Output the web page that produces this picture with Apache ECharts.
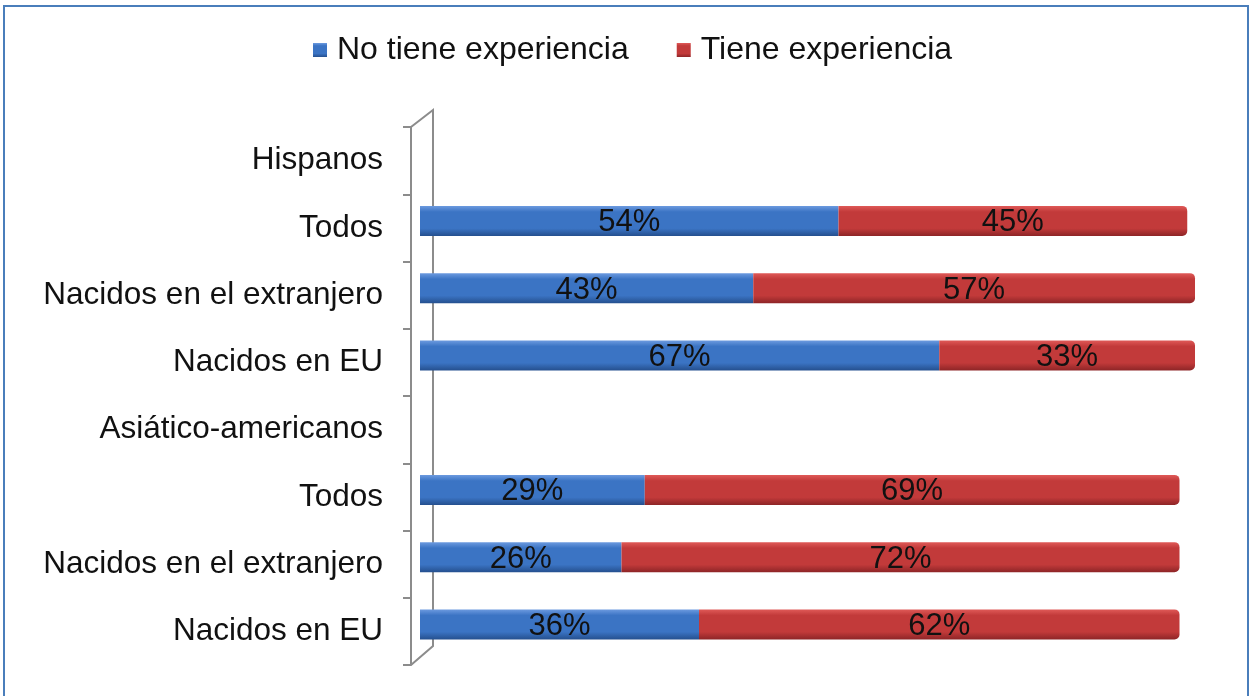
<!DOCTYPE html>
<html>
	<head>
		<meta charset="utf-8">
		<script type="text/javascript" src="https://cdn.jsdelivr.net/npm/echarts/dist/echarts.min.js"></script>
	</head>
	<body style="margin:0">
		<div id="main" style="width:1253px;height:696px"></div>
		<script type="text/javascript">
			// categorias (de arriba hacia abajo)
			var categorias = ['Hispanos', 'Todos', 'Nacidos en el extranjero', 'Nacidos en EU',
				'Asiático-americanos', 'Todos', 'Nacidos en el extranjero', 'Nacidos en EU'];
			var noTiene = [null, 54, 43, 67, null, 29, 26, 36];
			var tiene = [null, 45, 57, 33, null, 69, 72, 62];
			var nombres = ['No tiene experiencia', 'Tiene experiencia'];

			var myChart = echarts.init(document.getElementById('main'));

			function grad(top, mid, bot) {
				return new echarts.graphic.LinearGradient(0, 0, 0, 1, [
					{offset: 0, color: top},
					{offset: 0.2, color: mid},
					{offset: 0.75, color: mid},
					{offset: 1, color: bot}
				]);
			}

			var etiqueta = {
				show: true,
				position: 'inside',
				color: '#111',
				fontSize: 31,
				fontFamily: 'Liberation Sans, Arial',
				formatter: '{c}%',
				offset: [0, 2]
			};

			var option = {
				backgroundColor: '#fff',
				animation: false,
				legend: {
					left: 308,
					top: 29,
					itemWidth: 14,
					itemHeight: 14,
					itemGap: 48,
					icon: 'rect',
					textStyle: {
						fontSize: 32,
						color: '#111',
						fontFamily: 'Liberation Sans, Arial',
						padding: [0, 0, 0, 5]
					},
					data: nombres
				},
				grid: [
					{left: 420, right: 58, top: 120, bottom: 38},
					{left: 411, right: 58, top: 127, bottom: 31}
				],
				xAxis: [
					{gridIndex: 0, type: 'value', min: 0, max: 100, show: false},
					{gridIndex: 1, type: 'value', min: 0, max: 100, show: false}
				],
				yAxis: [
					{gridIndex: 0, type: 'category', inverse: true, data: categorias, show: false},
					{
						gridIndex: 1,
						type: 'category',
						inverse: true,
						data: categorias,
						axisLine: {show: true, lineStyle: {color: '#8c8c8c', width: 2}},
						axisTick: {show: true, length: 8, lineStyle: {color: '#8c8c8c', width: 2}},
						axisLabel: {
							margin: 28,
							fontSize: 31.5,
							color: '#111',
							fontFamily: 'Liberation Sans, Arial'
						}
					}
				],
				graphic: [
					{
						type: 'rect',
						shape: {x: 4, y: 6, width: 1244, height: 700},
						style: {fill: null, stroke: '#4a7ebb', lineWidth: 2},
						z: 0
					},
					{
						type: 'polyline',
						shape: {points: [[411, 127], [433, 110], [433, 646], [411, 665]]},
						style: {fill: null, stroke: '#8c8c8c', lineWidth: 2},
						z: 0
					}
				],
				series: [
					{
						name: nombres[0],
						type: 'bar',
						stack: 'total',
						xAxisIndex: 0,
						yAxisIndex: 0,
						barWidth: 30,
						data: noTiene,
						itemStyle: {color: grad('#6d9be0', '#3b74c4', '#25508f')},
						label: etiqueta
					},
					{
						name: nombres[1],
						type: 'bar',
						stack: 'total',
						xAxisIndex: 0,
						yAxisIndex: 0,
						barWidth: 30,
						data: tiene,
						itemStyle: {color: grad('#e05a58', '#c23a3a', '#8e2527'), borderRadius: [0, 5, 5, 0]},
						label: etiqueta
					}
				]
			};
			myChart.setOption(option);
		</script>
	</body>
</html>
